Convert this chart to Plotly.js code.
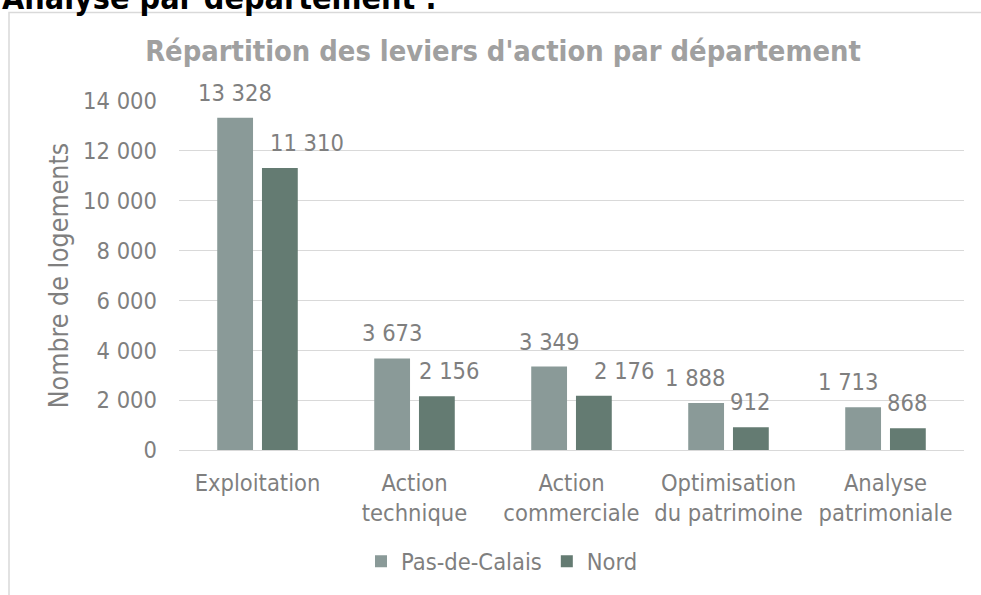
<!DOCTYPE html>
<html>
<head>
<meta charset="utf-8">
<script src="https://cdn.plot.ly/plotly-3.0.1.min.js"></script>
<style>
  html, body { margin: 0; padding: 0; background: #ffffff; }
  #chart { width: 981px; height: 595px; }
</style>
</head>
<body>
<div id="chart"></div>
<script>
// ---- data ----
const categories = ['Exploitation', 'Action technique', 'Action commerciale', 'Optimisation du patrimoine', 'Analyse patrimoniale'];
const tickLabels = ['Exploitation', 'Action<br>technique', 'Action<br>commerciale', 'Optimisation<br>du patrimoine', 'Analyse<br>patrimoniale'];
const pasDeCalais = [13328, 3673, 3349, 1888, 1713];
const nord = [11310, 2156, 2176, 912, 868];
const seriesNames = ['Pas-de-Calais', 'Nord'];
const yTicks = [0, 2000, 4000, 6000, 8000, 10000, 12000, 14000];

// ---- style ----
const FONT = 'DejaVu Sans Condensed, DejaVu Sans, Verdana, sans-serif';
const FS = 23.5;
const colPas = '#8a9a98';
const colNord = '#647b72';
const txtGray = '#7f7f7f';
const labelShiftPas = [0, 0, 0, -11, -15];
const labelShiftNord = [27, 13, 31, -1, -1];
const barOffset = 22.4; // px from category centre to bar centre

const W = 981, H = 595;
const M = {l: 179, r: 17, t: 101, b: 143};
const pw = W - M.l - M.r, ph = H - M.t - M.b;
const px = X => (X - M.l) / pw;
const py = Y => (H - M.b - Y) / ph;

function fmt(v) {
  return String(v).replace(/\B(?=(\d{3})+(?!\d))/g, '\u00a0');
}

const traces = [
  {type: 'bar', name: seriesNames[0], x: categories, y: pasDeCalais,
   marker: {color: colPas}, hoverinfo: 'x+y'},
  {type: 'bar', name: seriesNames[1], x: categories, y: nord,
   marker: {color: colNord}, hoverinfo: 'x+y'}
];

const annotations = [];
categories.forEach((c, i) => {
  annotations.push({x: c, y: pasDeCalais[i], xref: 'x', yref: 'y', text: fmt(pasDeCalais[i]),
    showarrow: false, xanchor: 'center', yanchor: 'middle',
    xshift: -barOffset + labelShiftPas[i], yshift: 25,
    font: {family: FONT, size: FS, color: txtGray}});
  annotations.push({x: c, y: nord[i], xref: 'x', yref: 'y', text: fmt(nord[i]),
    showarrow: false, xanchor: 'center', yanchor: 'middle',
    xshift: barOffset + labelShiftNord[i], yshift: 25,
    font: {family: FONT, size: FS, color: txtGray}});
});
annotations.push({xref: 'paper', yref: 'paper', x: px(0), y: py(-3), xanchor: 'left', yanchor: 'middle',
  text: '<b>Analyse par département :</b>', showarrow: false,
  font: {family: FONT, size: 32, color: '#000000'}});

const layout = {
  width: W, height: H,
  margin: M,
  paper_bgcolor: '#ffffff', plot_bgcolor: '#ffffff',
  separators: ', ',
  font: {family: FONT, size: FS, color: txtGray},
  title: {text: '<b>Répartition des leviers d\'action par département</b>',
    font: {family: FONT, size: 28.8, color: '#a0a0a0'},
    x: px(503), xanchor: 'center', xref: 'paper',
    y: (H - 51) / H, yanchor: 'middle', yref: 'container'},
  barmode: 'group', bargap: 0.43, bargroupgap: 0.2,
  xaxis: {type: 'category', tickvals: categories, ticktext: tickLabels,
    showgrid: false, showline: false, zeroline: false, ticks: '',
    tickfont: {family: FONT, size: FS, color: txtGray}, ticklabelstandoff: 16,
    fixedrange: true},
  yaxis: {range: [0, 14000], tickvals: yTicks, tickformat: ',d',
    showgrid: true, gridcolor: '#d9d9d9', gridwidth: 1,
    zeroline: true, zerolinecolor: '#d9d9d9', zerolinewidth: 1,
    showline: false, ticks: '', ticklabelstandoff: 21,
    tickfont: {family: FONT, size: FS, color: txtGray},
    title: {text: 'Nombre de logements', font: {family: FONT, size: 26.5, color: txtGray}, standoff: 6},
    fixedrange: true},
  showlegend: true,
  legend: {orientation: 'h', x: px(361), xanchor: 'left', y: py(564), yanchor: 'middle',
    font: {family: FONT, size: FS, color: txtGray}, bgcolor: 'rgba(0,0,0,0)',
    traceorder: 'normal', itemclick: false, itemdoubleclick: false},
  annotations: annotations,
  shapes: [
    {type: 'rect', xref: 'paper', yref: 'paper', x0: px(9), x1: px(995), y0: py(12), y1: py(610),
     line: {color: '#d9d9d9', width: 1.5}, fillcolor: 'rgba(0,0,0,0)', layer: 'below'}
  ]
};

Plotly.newPlot('chart', traces, layout, {displayModeBar: false});
</script>
</body>
</html>
